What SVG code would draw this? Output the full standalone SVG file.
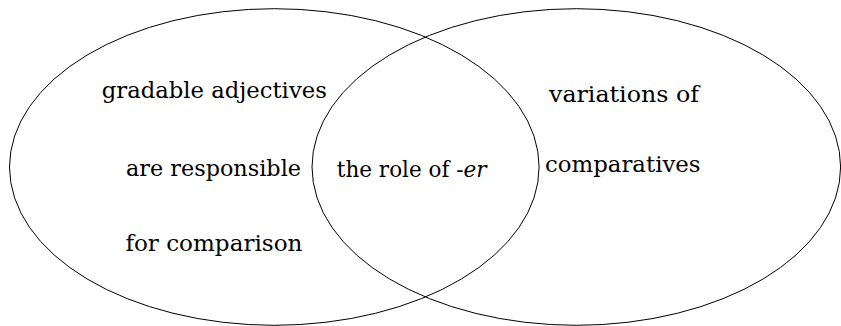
<svg xmlns="http://www.w3.org/2000/svg" width="841" height="326" viewBox="0 0 841 326">
<style>
.set{fill:none;stroke:#000;stroke-width:1}
.t{font-family:'DejaVu Serif','Liberation Serif',serif;font-size:22.5px;fill:#000;text-anchor:middle}
.i{font-style:italic}
</style>
<rect width="841" height="326" fill="#fff"/>
<g id="left-set">
<ellipse class="set" cx="274.3" cy="167" rx="264.8" ry="158.3"/>
<text class="t" x="214.3" y="98.3" textLength="225" lengthAdjust="spacingAndGlyphs">gradable adjectives</text>
<text class="t" x="213.5" y="176" textLength="175" lengthAdjust="spacingAndGlyphs">are responsible</text>
<text class="t" x="213.9" y="251" textLength="177" lengthAdjust="spacingAndGlyphs">for comparison</text>
</g>
<g id="right-set">
<ellipse class="set" cx="576.3" cy="167" rx="264.3" ry="158.3"/>
<text class="t" x="624" y="101.5" textLength="150" lengthAdjust="spacingAndGlyphs">variations of</text>
<text class="t" x="622.8" y="171.5" textLength="155.5" lengthAdjust="spacingAndGlyphs">comparatives</text>
</g>
<g id="intersection">
<text class="t" x="411.7" y="176.7" style="font-size:21.5px">the role of -<tspan class="i">er</tspan></text>
</g>
</svg>
